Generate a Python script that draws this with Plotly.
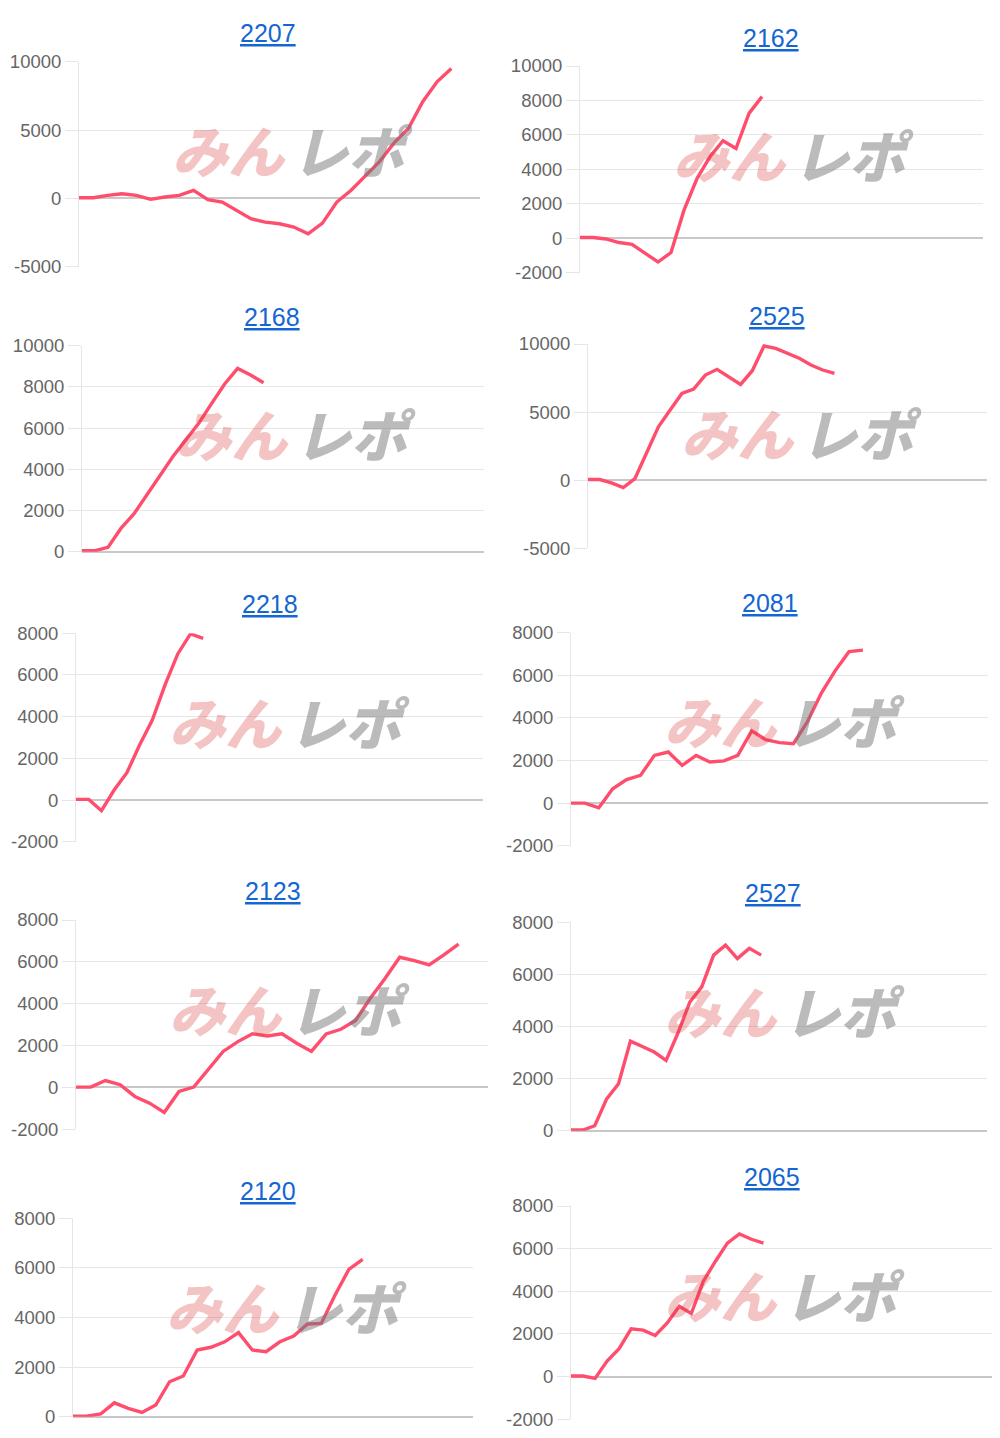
import plotly.graph_objects as go

# ---------------- data ----------------
titles = ["2207", "2162", "2168", "2525", "2218", "2081", "2123", "2527", "2120", "2065"]

s2207 = [50, 50, 220, 340, 220, -70, 100, 220, 590, -100, -270, -880, -1490, -1740,
         -1860, -2100, -2590, -1810, -270, 590, 1690, 2710, 4060, 5110, 7070, 8530, 9510]
s2162 = [40, 40, -40, -250, -350, -890, -1380, -830, 1630, 3470, 4730, 5660, 5210, 7250, 8220]
s2168 = [50, 50, 210, 1130, 1830, 2750, 3640, 4610, 5420, 6230, 7200, 8140, 8900, 8580, 8200]
s2525 = [50, 50, -200, -540, 120, 1960, 3920, 5150, 6370, 6690, 7720, 8140, 7550, 7030,
         8040, 9850, 9680, 9310, 8950, 8460, 8090, 7840]
s2218 = [30, 30, -510, 480, 1310, 2640, 3840, 5520, 7010, 7970, 7760]
s2081 = [0, 0, -220, 670, 1100, 1300, 2240, 2400, 1770, 2240, 1930, 1980, 2240, 3390,
         2980, 2840, 2790, 3810, 5150, 6210, 7110, 7180]
s2123 = [15, 15, 330, 130, -430, -750, -1190, -190, 15, 840, 1720, 2190, 2560, 2460,
         2560, 2110, 1720, 2560, 2780, 3200, 4260, 5210, 6220, 6060, 5850, 6330, 6850]
s2527 = [25, 25, 190, 1220, 1800, 3440, 3230, 3020, 2700, 3750, 4940, 5520, 6740, 7120,
         6610, 7000, 6740]
s2120 = [25, 25, 110, 560, 340, 170, 470, 1410, 1640, 2690, 2800, 3020, 3390, 2690,
         2620, 3020, 3250, 3740, 3760, 4910, 5940, 6340]
s2065 = [30, 30, -80, 730, 1310, 2240, 2180, 1930, 2520, 3300, 2960, 4470, 5400, 6260,
         6690, 6440, 6260]

series = [s2207, s2162, s2168, s2525, s2218, s2081, s2123, s2527, s2120, s2065]
x_max = [28, 31, 31, 34, 32, 30, 28, 35, 29, 35]
y_ranges = [(-5000, 10000), (-2000, 10000), (0, 10000), (-5000, 10000), (-2000, 8000),
            (-2000, 8000), (-2000, 8000), (0, 8000), (0, 8000), (-2000, 8000)]
y_dtick = [5000, 2000, 2000, 5000, 2000, 2000, 2000, 2000, 2000, 2000]

# ---------------- layout geometry (pixels, page coordinates) ----------------
W, H = 1000, 1438
OFF = 8  # page body margin compensation
plot_boxes = [  # left, right, top, bottom
    (79, 480, 61.7, 266.7), (580, 983, 66, 272.7),
    (82, 484, 345.7, 551.7), (588, 987, 344, 548.3),
    (76, 483, 633.3, 841.7), (571, 988, 632.7, 845.7),
    (76, 488, 920, 1129.3), (571, 987, 922.3, 1130.7),
    (73, 473, 1218.3, 1416.7), (571, 992, 1206, 1419.3),
]
title_pos = [(268, 33), (771, 38), (272, 317), (777, 316), (270, 604),
             (770, 603), (273, 891), (773, 893), (268, 1191), (772, 1177)]

LINE = "#ff4d6d"
GRID = "#e6e6e6"
FONT = "Liberation Sans, Arial, sans-serif"

fig = go.Figure()
layout = dict(
    width=W, height=H, margin=dict(l=0, r=0, t=0, b=0, autoexpand=False),
    paper_bgcolor="white", plot_bgcolor="white", showlegend=False,
)
annotations = []

def px2x(p):
    return (p - OFF) / W

def px2y(p):
    return 1 - (p - OFF) / H

for i, (vals, title) in enumerate(zip(series, titles)):
    n = i + 1
    xa = "x" if n == 1 else f"x{n}"
    ya = "y" if n == 1 else f"y{n}"
    fig.add_trace(go.Scatter(
        x=list(range(len(vals))), y=vals, mode="lines",
        line=dict(color=LINE, width=3.4), xaxis=xa, yaxis=ya,
        hoverinfo="skip",
    ))
    l, r, t, b = plot_boxes[i]
    lo, hi = y_ranges[i]
    tickvals = list(range(lo, hi + 1, y_dtick[i]))
    ticktext = [str(v) for v in tickvals]
    layout["xaxis" if n == 1 else f"xaxis{n}"] = dict(
        domain=[px2x(l), px2x(r)], range=[0, x_max[i]], anchor=ya,
        showgrid=False, zeroline=False, showline=False, showticklabels=False,
        ticks="", fixedrange=True, automargin=False,
    )
    layout["yaxis" if n == 1 else f"yaxis{n}"] = dict(
        domain=[px2y(b), px2y(t)], range=[lo, hi], anchor=xa,
        tickmode="array", tickvals=tickvals, ticktext=ticktext,
        showgrid=True, gridcolor=GRID, gridwidth=1,
        zeroline=True, zerolinecolor="#c8c8c8", zerolinewidth=1.5,
        showline=True, linecolor=GRID, linewidth=1,
        ticks="outside", ticklen=13, tickcolor=GRID, tickwidth=1,
        tickfont=dict(family=FONT, size=18.5, color="#666666"),
        ticklabelstandoff=0, fixedrange=True, automargin=False,
    )
    tx, ty = title_pos[i]
    annotations.append(dict(
        text=f"<u>{title}</u>", x=px2x(tx), y=px2y(ty), xref="paper", yref="paper",
        showarrow=False, xanchor="center", yanchor="middle",
        font=dict(family=FONT, size=25, color="#1466d2"),
    ))
    # watermark
    annotations.append(dict(
        text="<i>みん</i>", x=px2x(l + 150), y=px2y(t + 87), xref="paper", yref="paper",
        showarrow=False, xanchor="center", yanchor="middle",
        font=dict(family="Noto Sans CJK JP", size=56, weight=900, color="rgba(220,60,60,0.3)"),
    ))
    annotations.append(dict(
        text="<i>レポ</i>", x=px2x(l + 273), y=px2y(t + 87), xref="paper", yref="paper",
        showarrow=False, xanchor="center", yanchor="middle",
        font=dict(family="Noto Sans CJK JP", size=56, weight=900, color="rgba(120,120,120,0.5)"),
    ))

layout["annotations"] = annotations
fig.update_layout(**layout)
fig.write_html("out.html")
